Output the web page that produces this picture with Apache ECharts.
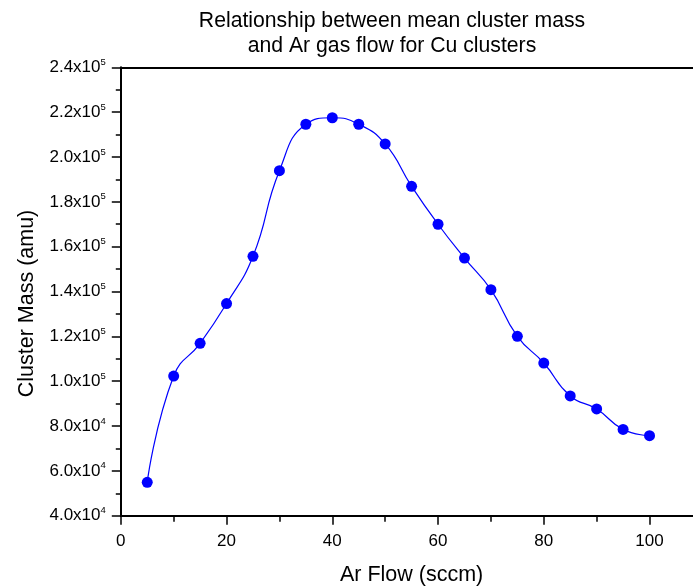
<!DOCTYPE html>
<html>
<head>
<meta charset="utf-8">
<script src="https://cdn.jsdelivr.net/npm/echarts@6/dist/echarts.min.js"></script>
<style>html,body{margin:0;padding:0;background:#fff;}#c{width:693px;height:588px;}</style>
</head>
<body>
<div id="c"></div>
<script>
// Data
const arFlow = [5, 10, 15, 20, 25, 30, 35, 40, 45, 50, 55, 60, 65, 70, 75, 80, 85, 90, 95, 100];
const clusterMass = [54900, 102300, 116900, 134600, 155700, 193900, 214600, 217500, 214600, 205800,
                     186900, 170000, 154900, 140800, 120000, 108100, 93400, 87600, 78500, 75700];
const xTickValues = [0, 20, 40, 60, 80, 100];
const xTickLabels = ['0', '20', '40', '60', '80', '100'];
const yTickValues = [40000, 60000, 80000, 100000, 120000, 140000, 160000, 180000, 200000, 220000, 240000];
const yTickLabels = ['4.0x10{s|4}', '6.0x10{s|4}', '8.0x10{s|4}', '1.0x10{s|5}', '1.2x10{s|5}', '1.4x10{s|5}',
                     '1.6x10{s|5}', '1.8x10{s|5}', '2.0x10{s|5}', '2.2x10{s|5}', '2.4x10{s|5}'];
const titleLines = ['Relationship between mean cluster mass', 'and Ar gas flow for Cu clusters'];

const FONT = '"Liberation Sans", Arial, sans-serif';
const chart = echarts.init(document.getElementById('c'), null, {renderer: 'canvas'});
const pts = arFlow.map((x, i) => [x, clusterMass[i]]);

chart.setOption({
  animation: false,
  backgroundColor: '#fff',
  title: {
    text: titleLines.join('\n'),
    left: 392, top: 9, textAlign: 'center', padding: 0,
    textStyle: {fontFamily: FONT, fontSize: 21.2, fontWeight: 'normal', color: '#000', lineHeight: 24.5}
  },
  grid: {left: 120.8, top: 67.3, width: 581.6, height: 448.4, containLabel: false, outerBoundsMode: 'none'},
  xAxis: [{
    type: 'value', min: 0, max: 110, interval: 20,
    name: 'Ar Flow (sccm)', nameLocation: 'middle', nameGap: 48,
    nameTextStyle: {fontFamily: FONT, fontSize: 21.5, color: '#000'},
    axisLine: {show: true, onZero: false, lineStyle: {color: '#000', width: 2}},
    axisTick: {show: true, inside: false, length: 9, lineStyle: {color: '#000', width: 1.5}},
    minorTick: {show: true, splitNumber: 2, length: 6, lineStyle: {color: '#000', width: 1.5}},
    axisLabel: {
      margin: 17, fontFamily: FONT, fontSize: 17, color: '#000',
      formatter: v => { const i = xTickValues.indexOf(v); return i >= 0 ? xTickLabels[i] : ''; }
    },
    splitLine: {show: false}, minorSplitLine: {show: false}
  }, {
    type: 'value', position: 'top', min: 0, max: 110,
    axisLine: {show: true, onZero: false, lineStyle: {color: '#000', width: 2}},
    axisTick: {show: false}, axisLabel: {show: false}, splitLine: {show: false}
  }],
  yAxis: {
    type: 'value', min: 40000, max: 240000, interval: 20000,
    name: 'Cluster Mass (amu)', nameLocation: 'middle', nameGap: 82, nameRotate: 90,
    nameTextStyle: {fontFamily: FONT, fontSize: 21.5, color: '#000', padding: [0, 24, 0, 0]},
    axisLine: {show: true, onZero: false, lineStyle: {color: '#000', width: 2}},
    axisTick: {show: true, inside: false, length: 9, lineStyle: {color: '#000', width: 1.5}},
    minorTick: {show: true, splitNumber: 2, length: 5, lineStyle: {color: '#000', width: 1.5}},
    axisLabel: {
      margin: 15, fontFamily: FONT, fontSize: 17, color: '#000', lineHeight: 20,
      formatter: v => { const i = yTickValues.indexOf(v); return i >= 0 ? yTickLabels[i] : ''; },
      rich: {s: {fontFamily: FONT, fontSize: 9.5, color: '#000', verticalAlign: 'top', lineHeight: 12, padding: [0, 0, 7, 0]}}
    },
    splitLine: {show: false}, minorSplitLine: {show: false}
  },
  series: [{
    type: 'line', data: pts, smooth: 0.5,
    symbol: 'circle', symbolSize: 11,
    itemStyle: {color: '#0000ff'},
    lineStyle: {color: '#0000ff', width: 1.2},
    clip: false
  }]
});
</script>
</body>
</html>
